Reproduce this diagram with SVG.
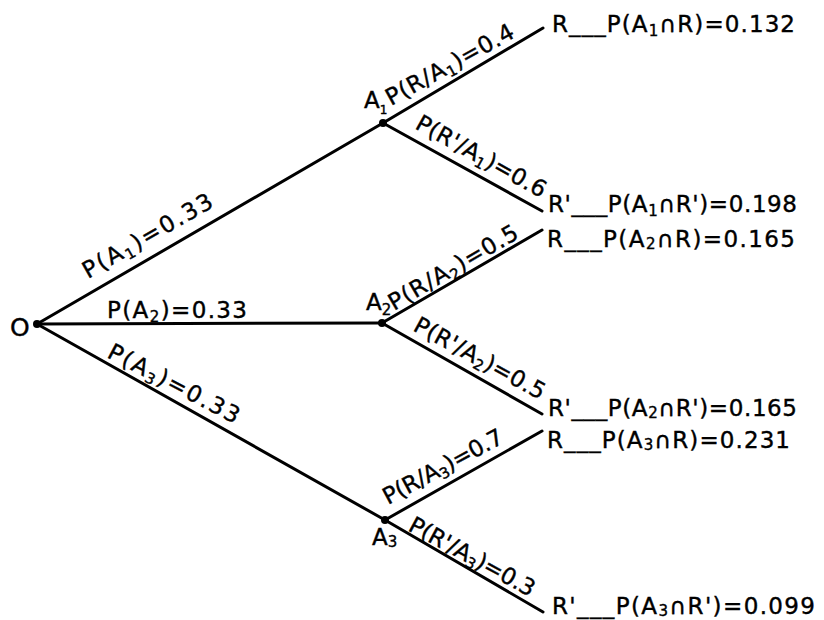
<svg xmlns="http://www.w3.org/2000/svg" width="824" height="620" viewBox="0 0 824 620">
  <style>
    .edge { stroke: #000; stroke-width: 3; stroke-linecap: round; fill: none; }
    .dot { fill: #000; }
    .t { font-family: "DejaVu Sans", "Liberation Sans", sans-serif; font-size: 23px; fill: #000; stroke: #000; stroke-width: 0.4; }
    .s { font-size: 15px; }
    .xs { font-size: 12px; }
    .big { font-size: 25px; }
  </style>
  <rect width="824" height="620" fill="#fff"/>

  <!-- branches of the probability tree -->
  <g id="connectors">
    <line class="edge" x1="37" y1="324" x2="383" y2="123"/>
    <line class="edge" x1="37" y1="324" x2="382" y2="323"/>
    <line class="edge" x1="37" y1="324" x2="385" y2="520"/>
    <line class="edge" x1="383" y1="123" x2="543" y2="28"/>
    <line class="edge" x1="383" y1="123" x2="542" y2="211"/>
    <line class="edge" x1="382" y1="323" x2="542" y2="230"/>
    <line class="edge" x1="382" y1="323" x2="542" y2="414"/>
    <line class="edge" x1="385" y1="520" x2="542" y2="431"/>
    <line class="edge" x1="385" y1="520" x2="543" y2="612"/>
  </g>

  <!-- probabilities written along the branches -->
  <g id="edge-labels">
    <text class="t" transform="translate(88,279) rotate(-29.9)" textLength="146" lengthAdjust="spacing">P(A<tspan class="s" dy="4">1</tspan><tspan dy="-4">)=0.33</tspan></text>
    <text class="t" x="107" y="318" textLength="140" lengthAdjust="spacing">P(A<tspan class="s" dy="4">2</tspan><tspan dy="-4">)=0.33</tspan></text>
    <text class="t" transform="translate(106,357) rotate(27.5)" textLength="145" lengthAdjust="spacing">P(A<tspan class="s" dy="4">3</tspan><tspan dy="-4">)=0.33</tspan></text>
    <text class="t" transform="translate(391,106) rotate(-29)" textLength="143" lengthAdjust="spacing">P(R/A<tspan class="s" dy="4">1</tspan><tspan dy="-4">)=0.4</tspan></text>
    <text class="t" transform="translate(414,128) rotate(28.9)" textLength="145" lengthAdjust="spacing">P(R'/A<tspan class="s" dy="4">1</tspan><tspan dy="-4">)=0.6</tspan></text>
    <text class="t" transform="translate(394,311) rotate(-30.3)" textLength="146" lengthAdjust="spacing">P(R/A<tspan class="s" dy="4">2</tspan><tspan dy="-4">)=0.5</tspan></text>
    <text class="t" transform="translate(412,330) rotate(28.7)" textLength="146" lengthAdjust="spacing">P(R'/A<tspan class="s" dy="4">2</tspan><tspan dy="-4">)=0.5</tspan></text>
    <text class="t" transform="translate(388,505) rotate(-28.3)" textLength="133" lengthAdjust="spacing">P(R/A<tspan class="s" dy="4">3</tspan><tspan dy="-4">)=0.7</tspan></text>
    <text class="t" transform="translate(407,530) rotate(28.6)" textLength="140" lengthAdjust="spacing">P(R'/A<tspan class="s" dy="4">3</tspan><tspan dy="-4">)=0.3</tspan></text>
  </g>

  <g id="node-O">
    <circle class="dot" cx="37" cy="324" r="4"/>
    <text class="t big" x="10" y="336">O</text>
  </g>
  <g id="node-A1">
    <circle class="dot" cx="383" cy="123" r="4"/>
    <text class="t" x="364" y="108">A<tspan class="xs" dy="6">1</tspan></text>
  </g>
  <g id="node-A2">
    <circle class="dot" cx="382" cy="323" r="4"/>
    <text class="t" x="366" y="310">A<tspan class="s" dy="5">2</tspan></text>
  </g>
  <g id="node-A3">
    <circle class="dot" cx="385" cy="520" r="4"/>
    <text class="t" x="372" y="545">A<tspan class="s" dy="2">3</tspan></text>
  </g>

  <!-- outcomes with joint probabilities -->
  <g id="leaf-A1-R">
    <text class="t" x="552" y="32" textLength="243" lengthAdjust="spacing">R___P(A<tspan class="s" dy="4">1</tspan><tspan dy="-4">∩R)=0.132</tspan></text>
  </g>
  <g id="leaf-A1-Rp">
    <text class="t" x="548" y="212" textLength="249" lengthAdjust="spacing">R'___P(A<tspan class="s" dy="4">1</tspan><tspan dy="-4">∩R')=0.198</tspan></text>
  </g>
  <g id="leaf-A2-R">
    <text class="t" x="547" y="247" textLength="248" lengthAdjust="spacing">R___P(A<tspan class="s" dy="2">2</tspan><tspan dy="-2">∩R)=0.165</tspan></text>
  </g>
  <g id="leaf-A2-Rp">
    <text class="t" x="548" y="416" textLength="249" lengthAdjust="spacing">R'___P(A<tspan class="s" dy="2">2</tspan><tspan dy="-2">∩R')=0.165</tspan></text>
  </g>
  <g id="leaf-A3-R">
    <text class="t" x="547" y="448" textLength="243" lengthAdjust="spacing">R___P(A<tspan class="s" dy="2">3</tspan><tspan dy="-2">∩R)=0.231</tspan></text>
  </g>
  <g id="leaf-A3-Rp">
    <text class="t" x="552" y="614" textLength="263" lengthAdjust="spacing">R'___P(A<tspan class="s" dy="2">3</tspan><tspan dy="-2">∩R')=0.099</tspan></text>
  </g>
</svg>
